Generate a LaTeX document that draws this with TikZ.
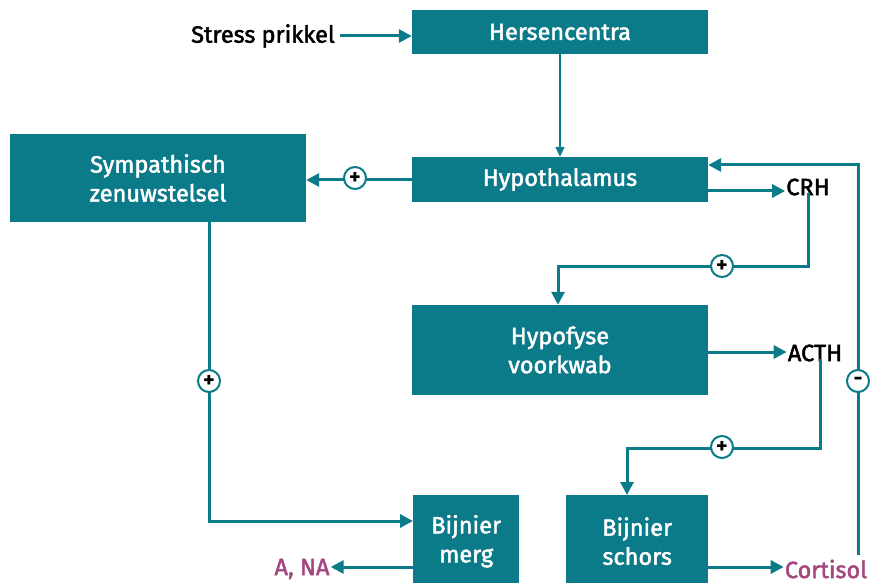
\documentclass[tikz,border=0pt]{standalone}
\usepackage{fontspec}
\setmainfont{Fira Sans}
\newfontfamily\medfont{Fira Sans}[FakeBold=2]
\usetikzlibrary{arrows.meta}
\definecolor{teal1}{HTML}{0B7A89}
\definecolor{purp}{HTML}{A2477F}
\tikzset{
  box/.style={fill=teal1, text=white, inner sep=0pt, align=center, font=\medfont\fontsize{23.5}{29}\selectfont},
  lbl/.style={font=\medfont\fontsize{23.5}{26}\selectfont, inner sep=1pt},
  conn/.style={draw=teal1, line width=3pt, -{Triangle[length=13pt,width=13pt]}},
  thin/.style={draw=teal1, line width=1.6pt, -{Triangle[length=10pt,width=9pt]}},
  sign/.style={circle, draw=teal1, line width=2pt, fill=white, minimum size=22pt, inner sep=0pt, font=\bfseries\fontsize{22}{22}\selectfont},
}
\begin{document}
\begin{tikzpicture}[x=1pt,y=-1pt]
\useasboundingbox (0,0) rectangle (871,583);
\node[box, minimum width=296pt, minimum height=44pt] (hc) at (560,32) {Hersencentra};
\node[lbl, anchor=east] (sp) at (336,36) {Stress prikkel};
\node[box, minimum width=296pt, minimum height=45pt] (hy) at (560,179.5) {Hypothalamus};
\node[box, minimum width=296pt, minimum height=88pt] (sz) at (158,178) {Sympathisch\\zenuwstelsel};
\node[box, minimum width=296pt, minimum height=90pt] (hp) at (560,350) {Hypofyse\\voorkwab};
\node[box, minimum width=106pt, minimum height=92pt, anchor=north west] (bm) at (413,495) {Bijnier\\merg};
\node[box, minimum width=142pt, minimum height=92pt, anchor=north west] (bs) at (566,495) {Bijnier\\schors};
\node[lbl] (crh) at (808,187) {CRH};
\node[lbl] (acth) at (815,353) {ACTH};
\node[lbl, text=purp] (ana) at (302,569) {A, NA};
\node[lbl, text=purp] (cor) at (826,569) {Cortisol};
% coordinates
\coordinate (fbtop) at (858,165);
\coordinate (fbbot) at (858,555);
\coordinate (c1) at (806,266);
\coordinate (c2) at (558,266);
\coordinate (a1) at (820,448);
\coordinate (a2) at (627,448);
\coordinate (s1) at (209,521);
% connectors
\draw[conn] (sp.east) ++(4pt,0) coordinate (spe) (spe) -- (hc.west |- spe);
\draw[thin] (hc.south) -- (hy.north);
\draw[conn] (hy.west |- 0,180) coordinate (hyw) -- (sz.east |- hyw);
\node[sign] (p1) at (355,178) {+};
\draw[conn] (hy.east |- 0,191) coordinate (hye) -- (crh.west |- hye);
\draw[conn] (crh.south) ++(0,4pt) coordinate (crhs) (crhs) -- (crhs |- c1) -- (c2) -- (hp.north -| c2);
\node[sign] (p2) at (722,266) {+};
\draw[conn] (hp.east |- 0,352) coordinate (hpe) -- (acth.west |- hpe);
\draw[conn] (acth.south -| a1) ++(0,4pt) coordinate (acths) (acths) -- (a1) -- (a2) -- (bs.north -| a2);
\node[sign] (p3) at (722,447) {+};
\draw[conn] (sz.south -| s1) -- (s1) -- (bm.west |- s1);
\node[sign] (p4) at (209,381) {+};
\draw[conn] (bm.west |- 0,567) coordinate (bmw) -- (ana.east |- bmw);
\draw[conn] (bs.east |- 0,567) coordinate (bse) -- (cor.west |- bse);
\draw[conn] (fbbot) -- (fbtop) -- (hy.east |- fbtop);
\node[sign] (m1) at (858,381) {-};
\end{tikzpicture}
\end{document}
